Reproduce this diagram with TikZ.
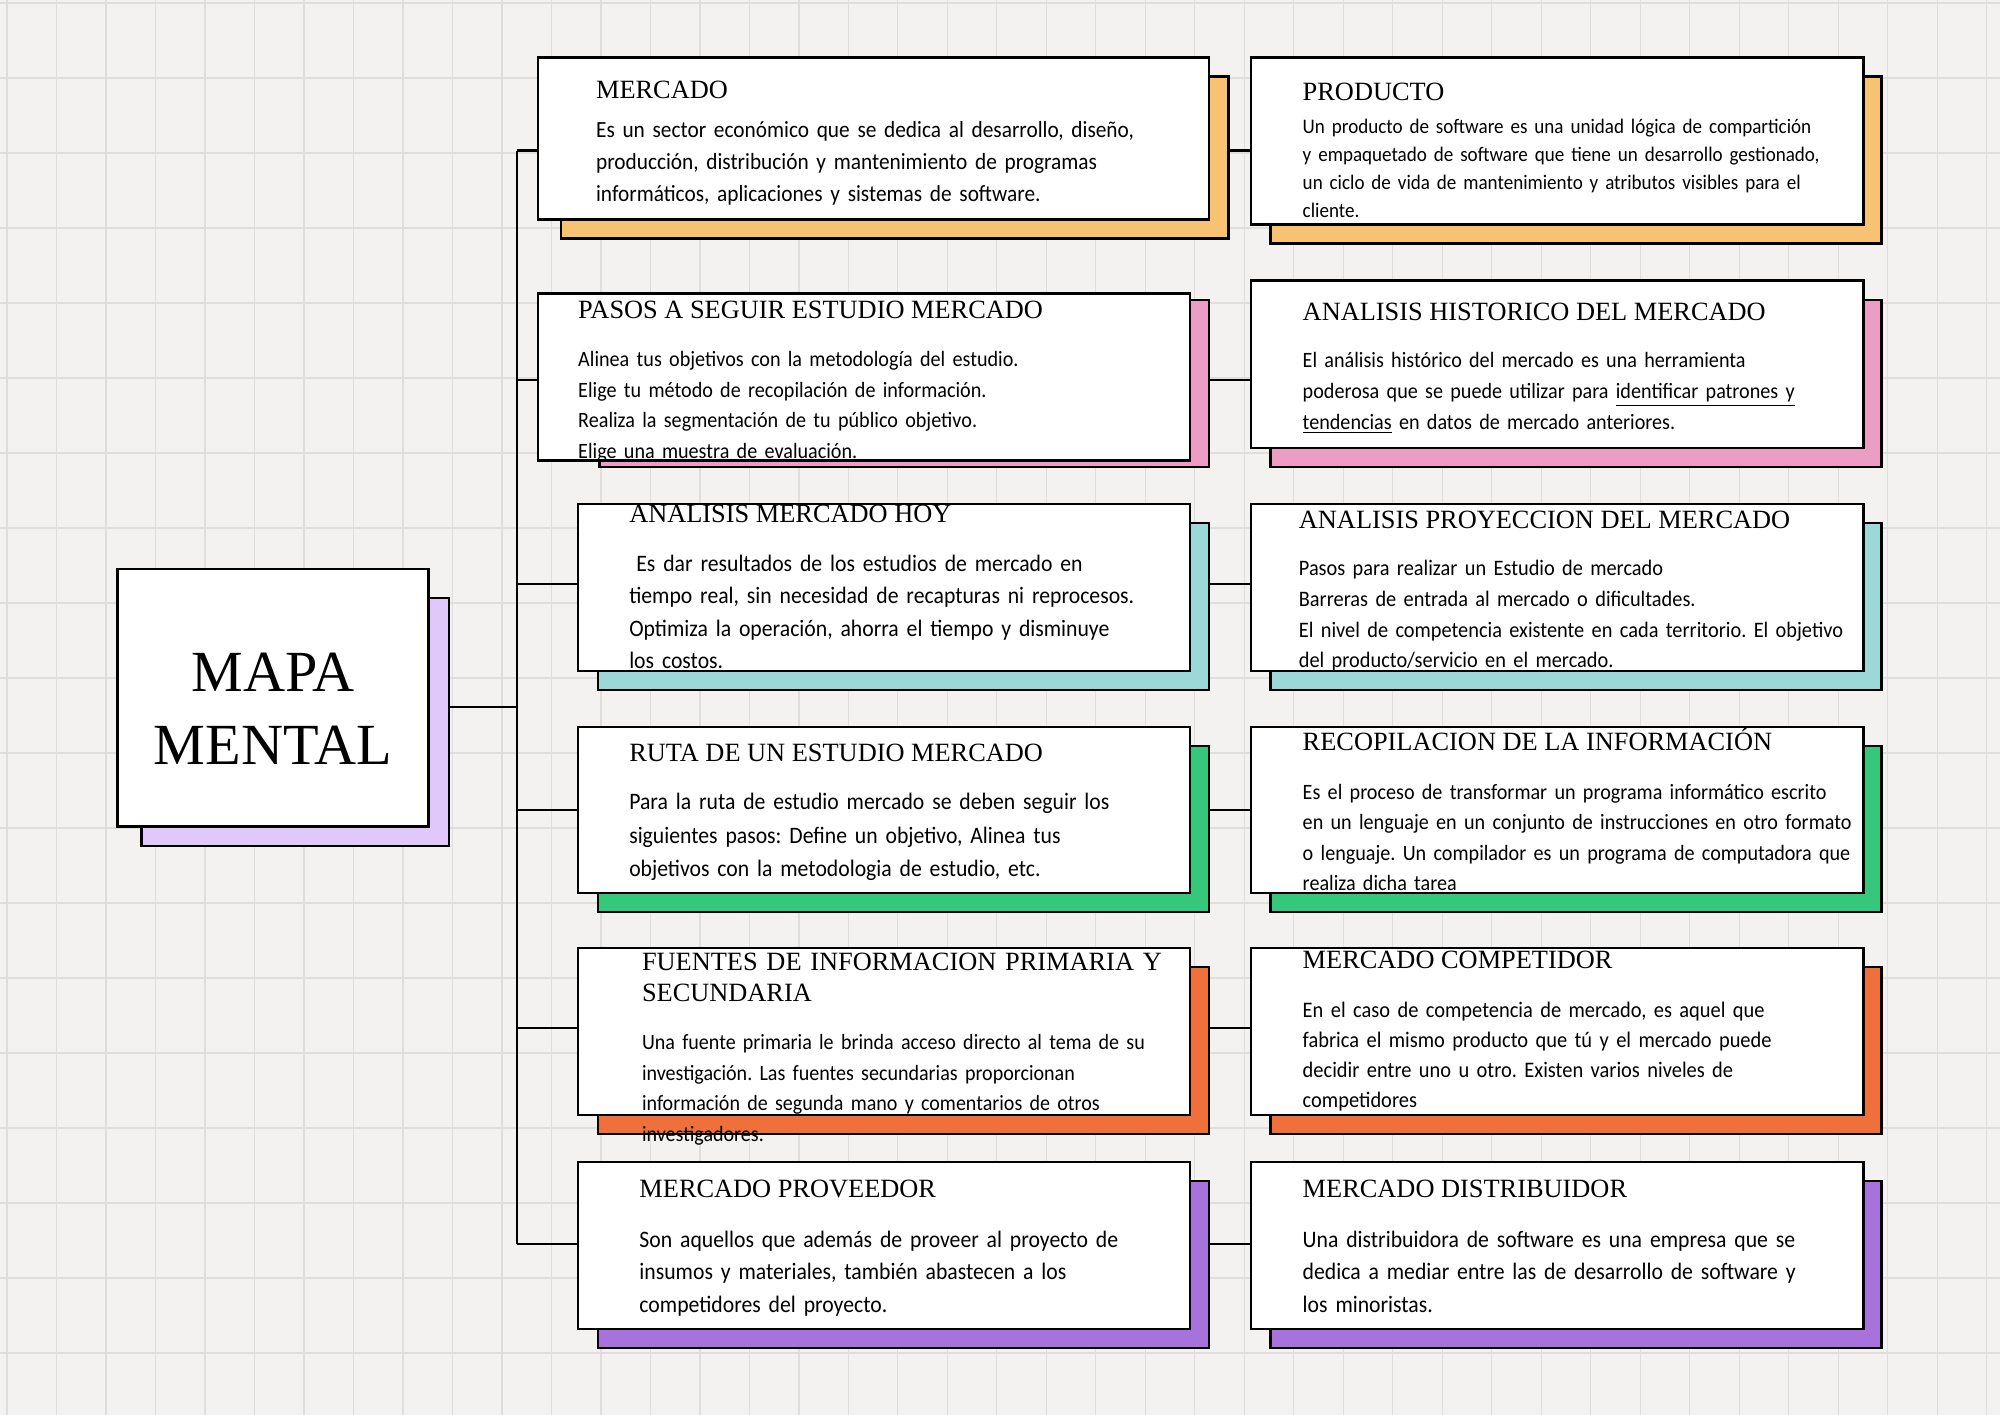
\documentclass[tikz,border=0pt]{standalone}
\usepackage{fontspec}
\usetikzlibrary{fit,backgrounds}
\newfontfamily\titulofont{Liberation Serif}
\newfontfamily\cuerpofont[FakeStretch=0.92]{Carlito}
\frenchspacing
\definecolor{fondo}{HTML}{F3F2F0}
\definecolor{rejilla}{HTML}{DFDEDC}
\definecolor{lila}{HTML}{E0C8FB}
\definecolor{naranja}{HTML}{F7C373}
\definecolor{rosa}{HTML}{EC9DC3}
\definecolor{turquesa}{HTML}{9DD8D8}
\definecolor{verde}{HTML}{35C77C}
\definecolor{coral}{HTML}{F0703C}
\definecolor{morado}{HTML}{A872DC}
\tikzset{
  caja/.style={draw=black, fill=white, line width=1.1pt, inner sep=0pt},
  sombra/.style={draw=black, fill=#1, line width=1.1pt, inner sep=0pt},
  titulo/.style={anchor=base west, inner sep=0pt, font=\titulofont\fontsize{12.4}{14.4}\selectfont},
  cuerpo/.style 2 args={anchor=base west, inner sep=0pt, text width=330pt, align=left, font=\cuerpofont\fontsize{#1}{#2}\selectfont},
  linea/.style={draw=black, line width=1pt},
}
\begin{document}
\begin{tikzpicture}[x=0.6pt,y=-0.6pt]
  \useasboundingbox (0,0) rectangle (1568,1109);
  % nodo central
  \node[sombra=lila, fit={(111,469) (352,663)}] (mapaS) {};
  \node[caja, fit={(92,446) (336,648)}] (mapa) {};
  \node[align=center, inner sep=0pt, font=\titulofont\fontsize{27.4}{34.2}\selectfont] (mapaT) at (214,555.5) {MAPA\\MENTAL};
  % columna izquierda
  \node[sombra=naranja, fit={(440,60) (963,187)}] (mercadoS) {};
  \node[caja, fit={(422,45) (948,172)}] (mercado) {};
  \node[titulo] (mercadoT) at (467,77) {MERCADO};
  \node[cuerpo={10.9}{15}] (mercadoB) at (467,108) {Es un sector económico que se dedica al desarrollo, diseño,\\producción, distribución y mantenimiento de programas\\informáticos, aplicaciones y sistemas de software.};
  \node[sombra=rosa, fit={(470,235) (948,366)}] (pasosS) {};
  \node[caja, fit={(422,230) (933,361)}] (pasos) {};
  \node[titulo] (pasosT) at (453,250) {PASOS A SEGUIR ESTUDIO MERCADO};
  \node[cuerpo={10.3}{14.4}] (pasosB) at (453,287.5) {Alinea tus objetivos con la metodología del estudio.\\Elige tu método de recopilación de información.\\Realiza la segmentación de tu público objetivo.\\Elige una muestra de evaluación.};
  \node[sombra=turquesa, fit={(469,410) (948,541)}] (hoyS) {};
  \node[caja, fit={(453,395) (933,526)}] (hoy) {};
  \node[titulo] (hoyT) at (493,410) {ANALISIS MERCADO HOY};
  \node[cuerpo={11.1}{15.2}] (hoyB) at (493,448) {\hspace*{0.3em}Es dar resultados de los estudios de mercado en\\tiempo real, sin necesidad de recapturas ni reprocesos.\\Optimiza la operación, ahorra el tiempo y disminuye\\los costos.};
  \node[sombra=verde, fit={(469,585) (948,715)}] (rutaS) {};
  \node[caja, fit={(453,570) (933,700)}] (ruta) {};
  \node[titulo] (rutaT) at (493,597) {RUTA DE UN ESTUDIO MERCADO};
  \node[cuerpo={11.1}{15.6}] (rutaB) at (493,635) {Para la ruta de estudio mercado se deben seguir los\\siguientes pasos: Define un objetivo, Alinea tus\\objetivos con la metodologia de estudio, etc.};
  \node[sombra=coral, fit={(469,758) (948,889)}] (fuentesS) {};
  \node[caja, fit={(453,743) (933,874)}] (fuentes) {};
  \node[titulo, text width=300pt, align=left] (fuentesT) at (503,761) {FUENTES DE INFORMACION PRIMARIA Y\\SECUNDARIA};
  \node[cuerpo={10.25}{14.4}] (fuentesB) at (503,823) {Una fuente primaria le brinda acceso directo al tema de su\\investigación. Las fuentes secundarias proporcionan\\información de segunda mano y comentarios de otros\\investigadores.};
  \node[sombra=morado, fit={(469,926) (948,1057)}] (proveedorS) {};
  \node[caja, fit={(453,911) (933,1042)}] (proveedor) {};
  \node[titulo] (proveedorT) at (501,939) {MERCADO PROVEEDOR};
  \node[cuerpo={11.1}{15.3}] (proveedorB) at (501,978) {Son aquellos que además de proveer al proyecto de\\insumos y materiales, también abastecen a los\\competidores del proyecto.};
  % columna derecha
  \node[sombra=naranja, fit={(996,60) (1475,191)}] (productoS) {};
  \node[caja, fit={(981,45) (1461,176)}] (producto) {};
  \node[titulo] (productoT) at (1021,79) {PRODUCTO};
  \node[cuerpo={9.75}{13.2}] (productoB) at (1021,104.5) {Un producto de software es una unidad lógica de compartición\\y empaquetado de software que tiene un desarrollo gestionado,\\un ciclo de vida de mantenimiento y atributos visibles para el\\cliente.};
  \node[sombra=rosa, fit={(996,235) (1475,366)}] (historicoS) {};
  \node[caja, fit={(981,220) (1461,351)}] (historico) {};
  \node[titulo] (historicoT) at (1021,251) {ANALISIS HISTORICO DEL MERCADO};
  \node[cuerpo={10.3}{14.4}] (historicoB) at (1021,288.5) {El análisis histórico del mercado es una herramienta\\poderosa que se puede utilizar para \underline{identificar patrones y}\\\underline{tendencias} en datos de mercado anteriores.};
  \node[sombra=turquesa, fit={(996,410) (1475,541)}] (proyeccionS) {};
  \node[caja, fit={(981,395) (1461,526)}] (proyeccion) {};
  \node[titulo] (proyeccionT) at (1018,414) {ANALISIS PROYECCION DEL MERCADO};
  \node[cuerpo={10.4}{14.4}] (proyeccionB) at (1018,451.5) {Pasos para realizar un Estudio de mercado\\Barreras de entrada al mercado o dificultades.\\El nivel de competencia existente en cada territorio. El objetivo\\del producto/servicio en el mercado.};
  \node[sombra=verde, fit={(996,585) (1475,715)}] (recopilacionS) {};
  \node[caja, fit={(981,570) (1461,700)}] (recopilacion) {};
  \node[titulo] (recopilacionT) at (1021,588) {RECOPILACION DE LA INFORMACIÓN};
  \node[cuerpo={10.3}{14.2}] (recopilacionB) at (1021,627) {Es el proceso de transformar un programa informático escrito\\en un lenguaje en un conjunto de instrucciones en otro formato\\o lenguaje. Un compilador es un programa de computadora que\\realiza dicha tarea};
  \node[sombra=coral, fit={(996,758) (1475,889)}] (competidorS) {};
  \node[caja, fit={(981,743) (1461,874)}] (competidor) {};
  \node[titulo] (competidorT) at (1021,759) {MERCADO COMPETIDOR};
  \node[cuerpo={10.45}{14.2}] (competidorB) at (1021,797.5) {En el caso de competencia de mercado, es aquel que\\fabrica el mismo producto que tú y el mercado puede\\decidir entre uno u otro. Existen varios niveles de\\competidores};
  \node[sombra=morado, fit={(996,926) (1475,1057)}] (distribuidorS) {};
  \node[caja, fit={(981,911) (1461,1042)}] (distribuidor) {};
  \node[titulo] (distribuidorT) at (1021,939) {MERCADO DISTRIBUIDOR};
  \node[cuerpo={11.1}{15.3}] (distribuidorB) at (1021,978) {Una distribuidora de software es una empresa que se\\dedica a mediar entre las de desarrollo de software y\\los minoristas.};
  % tronco y ramas
  \coordinate (tronco0) at (405,554);
  \coordinate (tronco1) at (405,118);
  \coordinate (tronco2) at (405,298);
  \coordinate (tronco3) at (405,458);
  \coordinate (tronco4) at (405,635);
  \coordinate (tronco5) at (405,806);
  \coordinate (tronco6) at (405,975);
  \begin{scope}[on background layer]
    \fill[fondo] (0,0) rectangle (1568,1109);
    \foreach \x in {5.5,44.3,...,1568} \draw[rejilla, line width=0.6pt] (\x,0) -- (\x,1109);
    \foreach \y in {2.4,61.2,...,1109} \draw[rejilla, line width=0.6pt] (0,\y) -- (1568,\y);
    \draw[linea] (tronco1) -- (tronco6);
    \draw[linea] (tronco0 -| mapa.east) -- (tronco0);
    \draw[linea] (tronco1) -- (tronco1 -| producto.west);
    \draw[linea] (tronco2) -- (tronco2 -| historico.west);
    \draw[linea] (tronco3) -- (tronco3 -| proyeccion.west);
    \draw[linea] (tronco4) -- (tronco4 -| recopilacion.west);
    \draw[linea] (tronco5) -- (tronco5 -| competidor.west);
    \draw[linea] (tronco6) -- (tronco6 -| distribuidor.west);
  \end{scope}
\end{tikzpicture}
\end{document}
